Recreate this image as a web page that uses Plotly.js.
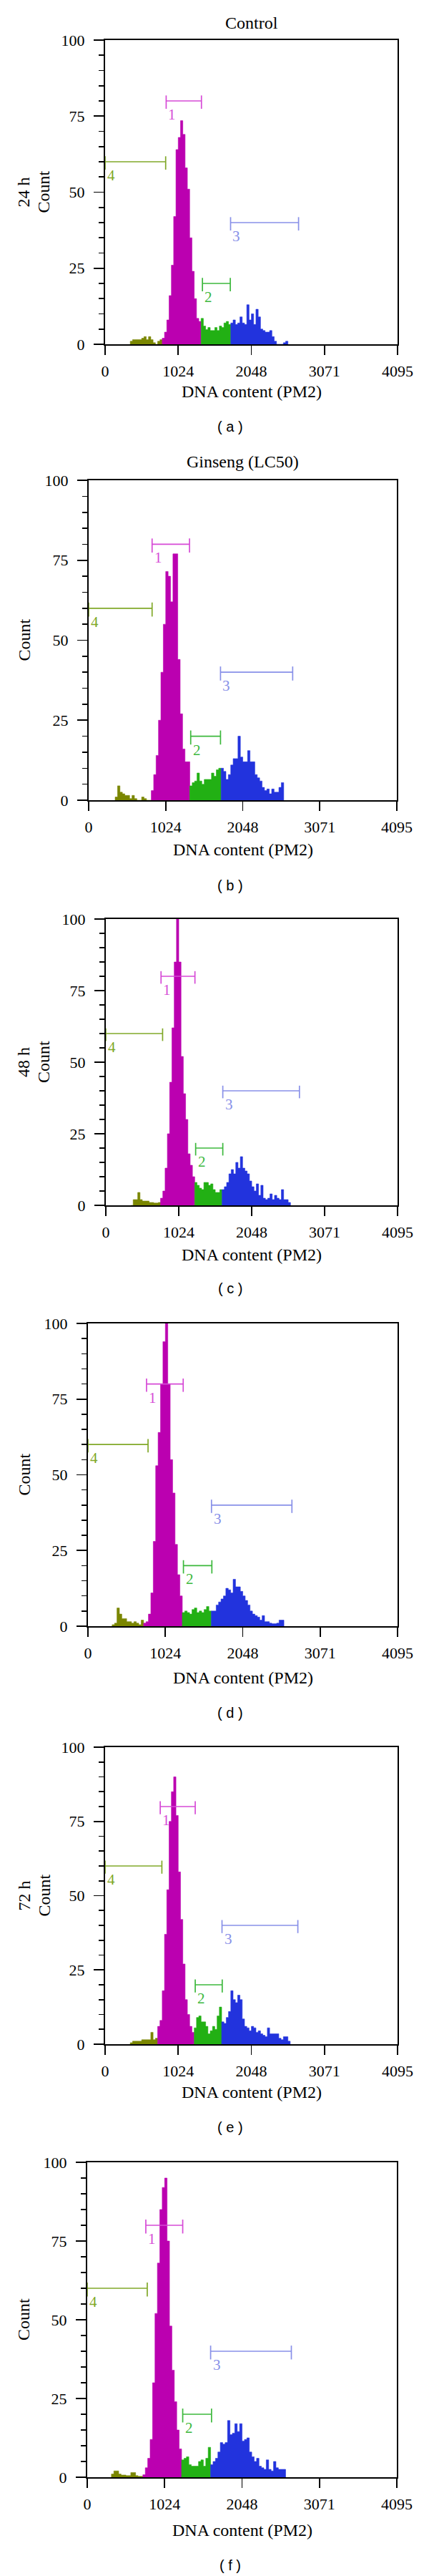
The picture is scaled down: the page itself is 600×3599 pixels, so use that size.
<!DOCTYPE html>
<html>
<head>
<meta charset="utf-8">
<script src="https://cdn.plot.ly/plotly-3.0.1.min.js"></script>
<style>html,body{margin:0;padding:0;background:#fff;}#chart{width:600px;height:3599px;}</style>
</head>
<body>
<div id="chart"></div>
<script>
// ---------------- data ----------------
const BIN_WIDTH = 32;
const xTickVals = [0, 1024, 2048, 3071, 4095];
const xTickText = ['0', '1024', '2048', '3071', '4095'];
const yTickVals = [0, 25, 50, 75, 100];
const yTickText = ['0', '25', '50', '75', '100'];
const panelTitles = ['Control', 'Ginseng (LC50)', '', '', '', ''];
const rowLabels = ['24 h', '', '48 h', '', '72 h', ''];
const panelLetters = ['( a )', '( b )', '( c )', '( d )', '( e )', '( f )'];
const xTitle = 'DNA content (PM2)';
const yTitle = 'Count';
const gateNames = ['1', '2', '3', '4'];
const gateLevels = [80, 20, 40, 60];

// histogram counts, bins of BIN_WIDTH starting at startX
const startA = 352;
const countsA = [1, 1.5, 1.5, 1.5, 1.5, 2, 2.5, 1.5, 2.5, 1.5, 0.5, 0, 1, 1.5, 2, 4, 8, 16, 26, 42, 64, 68, 73.5, 69, 58, 51, 35, 24, 15, 8.5, 7.5, 8.5, 6, 4.8, 5.5, 4.5, 4.5, 5.5, 4.5, 6, 5.5, 7, 7.5, 6.5, 7, 8, 6.5, 7, 9, 7, 6.5, 13, 8, 10, 6.5, 11.5, 9, 5, 4.5, 4, 4, 4.5, 2.5, 1, 0, 0, 0, 0.5, 1];
const startB = 352;
const countsB = [1, 4.5, 2.5, 2, 1.5, 1.5, 0.5, 1.5, 0.5, 0, 0, 1, 0.5, 0, 0, 3, 8, 14, 25, 40, 55, 71.5, 70, 62, 77, 77, 44, 27, 16, 12, 12, 4.5, 5.5, 6, 8.5, 6, 5, 6.5, 6.5, 6.5, 8.5, 7.5, 9.5, 10, 10, 9, 6.5, 8, 11, 13, 13, 20, 13.5, 12, 12, 15.5, 12, 12, 8, 7, 6, 4, 3, 3.5, 2, 3.5, 2.5, 2.5, 4, 5.5];
const startC = 352;
const countsC = [0, 2, 2, 4.5, 2, 1.5, 1.5, 1.5, 1, 1, 0.8, 0.8, 1, 2.5, 5, 13, 25, 43, 62, 85, 100, 85, 52, 39, 30, 18, 14, 10, 8, 7, 6, 5.5, 8, 8, 7, 7.5, 5.5, 4.5, 4.5, 5.5, 5.5, 6.5, 8, 11, 12.5, 11, 15, 13, 17, 13, 12, 11, 8.5, 6.5, 5, 7.5, 3.5, 7, 2.5, 2, 2.5, 4, 2, 3.5, 2.5, 2, 5.5, 2, 2, 1];
const startD = 320;
const countsD = [0.5, 1, 6, 4, 2.5, 2.5, 1.5, 1.5, 1, 1.5, 1, 0.5, 2, 1, 1.5, 4, 11, 28, 53, 64, 80, 94, 100, 80, 55, 44, 27, 17, 10, 4.5, 5, 4.5, 4, 5.5, 6, 4.5, 5, 4.5, 5.5, 6.5, 5, 5, 5, 7, 8, 9, 10, 12.5, 12, 11, 15.5, 13, 13, 11.5, 10, 8.5, 7, 5, 4, 3.5, 3, 2, 3.5, 1.5, 1.5, 1, 0.8, 0.8, 1, 2, 2];
const startE = 352;
const countsE = [0.5, 1, 1, 1, 1, 1.5, 1.5, 1.5, 1.5, 4, 1.5, 2, 6, 8, 18, 37, 52, 75, 85, 90, 77, 58, 42, 27, 15, 10, 6, 4, 5.5, 9, 9.5, 7.5, 7.5, 6, 3.5, 4.5, 6, 5, 9.5, 12.5, 7.5, 7, 9, 11, 18, 15, 14, 16.5, 15, 8.5, 6, 5.5, 4.5, 6, 5.5, 4, 4.5, 3.5, 3, 2.5, 5.5, 3.5, 3.5, 3.5, 3.5, 2, 1.5, 2.5, 2.5, 1];
const startF = 320;
const countsF = [1, 2, 2, 1, 0.7, 0.7, 0.5, 0.5, 1.5, 1.5, 0.5, 0.3, 0.3, 0.8, 3, 6, 12, 30, 52, 68, 85, 92, 95, 75, 48, 34, 24, 15, 9, 5.5, 6, 6.5, 4, 3.5, 3.5, 3.5, 5, 5.5, 3.5, 6, 9.5, 4, 5, 6, 8, 11, 10.5, 11, 18, 13.5, 14, 17, 14.5, 17, 11.5, 12, 12.5, 8, 6.5, 5, 6, 3.5, 3, 2.5, 5.5, 2.5, 2, 5, 3, 2.5, 2.5, 2.5];

// colour region boundaries (DNA content where region 4 -> 1 -> 2 -> 3 changes)
const splitsA = [800, 1344, 1760];
const splitsB = [832, 1344, 1760];
const splitsC = [768, 1248, 1632];
const splitsD = [736, 1248, 1632];
const splitsE = [736, 1248, 1632];
const splitsF = [736, 1248, 1632];

// gate markers [start, end] for gates 1, 2, 3, 4
const gatesA = [[855, 1349], [1363, 1753], [1757, 2709], [0, 848]];
const gatesB = [[843, 1340], [1356, 1752], [1752, 2711], [0, 843]];
const gatesC = [[775, 1251], [1261, 1642], [1642, 2718], [0, 797]];
const gatesD = [[775, 1260], [1263, 1639], [1634, 2698], [0, 795]];
const gatesE = [[772, 1262], [1262, 1640], [1637, 2699], [0, 795]];
const gatesF = [[775, 1263], [1263, 1644], [1632, 2700], [0, 794]];

// ---------------- styling / layout ----------------
const W = 600, H = 3599;
const boxes = [
  {l: 147, r: 556, t: 56,   b: 481},
  {l: 124, r: 555, t: 671,  b: 1118},
  {l: 148, r: 556, t: 1284, b: 1684},
  {l: 123, r: 556, t: 1849, b: 2272},
  {l: 147, r: 556, t: 2441, b: 2856},
  {l: 122, r: 555, t: 3021, b: 3461}
];
const titleY = [32, 645, null, null, null, null];
const xTitleY = [547, 1187, 1753, 2344, 2923, 3535];
const letterY = [596, 1237, 1800, 2393, 2972, 3584];
const letterX = 322;

const regionColors = ['#7a8600', '#bb00b0', '#22b014', '#2233dd']; // regions 4,1,2,3
const gateColors = ['#d64ad6', '#3cb83c', '#8890e8', '#80a828'];     // gates 1,2,3,4
const SERIF = 'Liberation Serif, Times New Roman, serif';
const SANS = 'Liberation Sans, Arial, sans-serif';

const panels = [
  {start: startA, counts: countsA, splits: splitsA, gates: gatesA},
  {start: startB, counts: countsB, splits: splitsB, gates: gatesB},
  {start: startC, counts: countsC, splits: splitsC, gates: gatesC},
  {start: startD, counts: countsD, splits: splitsD, gates: gatesD},
  {start: startE, counts: countsE, splits: splitsE, gates: gatesE},
  {start: startF, counts: countsF, splits: splitsF, gates: gatesF}
];

function regionOf(left, splits) {
  if (left < splits[0]) return 0;
  if (left < splits[1]) return 1;
  if (left < splits[2]) return 2;
  return 3;
}

const traces = [];
const annotations = [];
const layout = {
  width: W, height: H,
  margin: {l: 0, r: 0, t: 0, b: 0},
  paper_bgcolor: '#ffffff', plot_bgcolor: '#ffffff',
  showlegend: false,
  font: {family: SERIF, color: '#000'},
  annotations: annotations
};

panels.forEach((p, i) => {
  const n = i + 1;
  const xa = n === 1 ? 'x' : 'x' + n;
  const ya = n === 1 ? 'y' : 'y' + n;
  const box = boxes[i];

  // histogram, one filled step outline per colour region
  const groups = [[], [], [], []];
  p.counts.forEach((v, j) => {
    const left = p.start + j * BIN_WIDTH;
    groups[regionOf(left, p.splits)].push([left, left + BIN_WIDTH, v]);
  });
  groups.forEach((g, r) => {
    if (!g.length) return;
    const xs = [g[0][0]], ys = [0];
    g.forEach(b => { xs.push(b[0], b[1]); ys.push(b[2], b[2]); });
    xs.push(g[g.length - 1][1]); ys.push(0);
    traces.push({
      type: 'scatter', mode: 'lines', x: xs, y: ys, xaxis: xa, yaxis: ya,
      fill: 'toself', fillcolor: regionColors[r],
      line: {color: regionColors[r], width: 0.6},
      hoverinfo: 'skip'
    });
  });

  // gate markers
  p.gates.forEach((g, k) => {
    const lv = gateLevels[k];
    traces.push({
      type: 'scatter', mode: 'lines', xaxis: xa, yaxis: ya,
      x: [g[0], g[0], null, g[0], g[1], null, g[1], g[1]],
      y: [lv + 1.8, lv - 2.6, null, lv, lv, null, lv + 1.8, lv - 2.6],
      line: {color: gateColors[k], width: 1.7},
      hoverinfo: 'skip', cliponaxis: false
    });
    annotations.push({
      xref: xa, yref: ya, x: g[0], y: lv, text: gateNames[k],
      xanchor: 'left', yanchor: 'top', xshift: 1, yshift: -5,
      showarrow: false, font: {family: SERIF, size: 21, color: gateColors[k]}
    });
  });

  const axisCommon = {
    showline: true, linewidth: 2, linecolor: '#000', mirror: true,
    showgrid: false, zeroline: false, ticks: 'outside', tickwidth: 1.6, tickcolor: '#000',
    tickfont: {family: SERIF, size: 22, color: '#000'}, fixedrange: true
  };
  layout['xaxis' + (n === 1 ? '' : n)] = Object.assign({}, axisCommon, {
    domain: [box.l / W, box.r / W], anchor: ya, range: [0, 4095],
    tickmode: 'array', tickvals: xTickVals, ticktext: xTickText, ticklen: 13,
    ticklabelstandoff: 4
  });
  layout['yaxis' + (n === 1 ? '' : n)] = Object.assign({}, axisCommon, {
    domain: [1 - box.b / H, 1 - box.t / H], anchor: xa, range: [0, 100],
    tickmode: 'array', tickvals: yTickVals, ticktext: yTickText, ticklen: 14,
    ticklabelstandoff: 8,
    minor: {tickmode: 'linear', tick0: 0, dtick: 5, ticks: 'outside', ticklen: 7, tickwidth: 1.6, tickcolor: '#000', showgrid: false}
  });

  const cx = (box.l + box.r) / 2 / W;
  const cy = 1 - (box.t + box.b) / 2 / H;
  if (panelTitles[i]) {
    annotations.push({xref: 'paper', yref: 'paper', x: cx, y: 1 - titleY[i] / H,
      text: panelTitles[i], showarrow: false, xanchor: 'center', yanchor: 'middle',
      font: {family: SERIF, size: 24, color: '#000'}});
  }
  annotations.push({xref: 'paper', yref: 'paper', x: cx, y: 1 - xTitleY[i] / H,
    text: xTitle, showarrow: false, xanchor: 'center', yanchor: 'middle',
    font: {family: SERIF, size: 24, color: '#000'}});
  if (rowLabels[i]) {
    annotations.push({xref: 'paper', yref: 'paper', x: 33 / W, y: cy,
      text: rowLabels[i], textangle: -90, showarrow: false, xanchor: 'center', yanchor: 'middle',
      font: {family: SERIF, size: 24, color: '#000'}});
    annotations.push({xref: 'paper', yref: 'paper', x: 61 / W, y: cy,
      text: yTitle, textangle: -90, showarrow: false, xanchor: 'center', yanchor: 'middle',
      font: {family: SERIF, size: 24, color: '#000'}});
  } else {
    annotations.push({xref: 'paper', yref: 'paper', x: 33 / W, y: cy,
      text: yTitle, textangle: -90, showarrow: false, xanchor: 'center', yanchor: 'middle',
      font: {family: SERIF, size: 24, color: '#000'}});
  }
  annotations.push({xref: 'paper', yref: 'paper', x: letterX / W, y: 1 - letterY[i] / H,
    text: panelLetters[i], showarrow: false, xanchor: 'center', yanchor: 'middle',
    font: {family: SANS, size: 20, color: '#000'}});
});

Plotly.newPlot('chart', traces, layout, {staticPlot: true, displayModeBar: false});
</script>
</body>
</html>
